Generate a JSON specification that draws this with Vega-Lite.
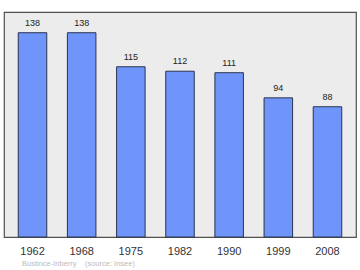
{
  "$schema": "https://vega.github.io/schema/vega-lite/v6.json",
  "width": 352,
  "height": 225,
  "autosize": {"type": "none"},
  "padding": {"left": 4, "top": 12, "right": 4, "bottom": 33},
  "background": "white",
  "config": {
    "view": {"fill": "#ececec", "stroke": "#505050", "strokeWidth": 1.2},
    "font": "Liberation Sans"
  },
  "title": {
    "text": "Bustince-Iriberry\u00a0\u00a0\u00a0\u00a0(source: Insee)",
    "orient": "bottom",
    "anchor": "start",
    "dx": 18,
    "offset": 4,
    "fontSize": 7.5,
    "fontWeight": "normal",
    "color": "#bbbbbb",
    "font": "Liberation Sans"
  },
  "data": {
    "values": [
      {"year": "1962", "pop": 138},
      {"year": "1968", "pop": 138},
      {"year": "1975", "pop": 115},
      {"year": "1982", "pop": 112},
      {"year": "1990", "pop": 111},
      {"year": "1999", "pop": 94},
      {"year": "2008", "pop": 88}
    ]
  },
  "encoding": {
    "x": {
      "field": "year",
      "type": "ordinal",
      "scale": {"paddingInner": 0.42, "paddingOuter": 0.29},
      "axis": {
        "title": null,
        "ticks": false,
        "domain": false,
        "labelAngle": 0,
        "labelPadding": 8,
        "labelFontSize": 11,
        "labelColor": "#333333",
        "labelFont": "Liberation Sans"
      }
    },
    "y": {
      "field": "pop",
      "type": "quantitative",
      "scale": {"domain": [0, 152], "nice": false},
      "axis": null
    }
  },
  "layer": [
    {
      "mark": {"type": "bar", "color": "#6f95fa", "stroke": "#2a3450", "strokeWidth": 1}
    },
    {
      "mark": {"type": "text", "baseline": "alphabetic", "dy": -7, "fontSize": 9, "color": "#222222", "font": "Liberation Sans"},
      "encoding": {"text": {"field": "pop", "type": "quantitative"}}
    }
  ]
}
